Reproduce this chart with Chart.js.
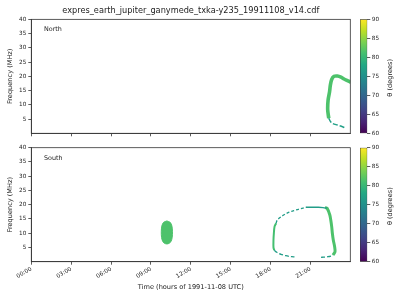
<!DOCTYPE html>
<html><head><meta charset="utf-8">
<script src="https://cdn.jsdelivr.net/npm/chart.js@4.4.1/dist/chart.umd.min.js"></script>
<style>
html,body{margin:0;padding:0;background:#fff;width:400px;height:300px;overflow:hidden}
canvas{position:absolute;display:block}
</style></head><body>
<canvas id="top" width="400" height="140" style="left:0;top:0"></canvas>
<canvas id="bot" width="400" height="160" style="left:0;top:140px"></canvas>
<canvas id="cbTop" width="60" height="140" style="left:340px;top:0"></canvas>
<canvas id="cbBot" width="60" height="160" style="left:340px;top:140px"></canvas>
<script>
// ---------- data ----------
const titleText = 'expres_earth_jupiter_ganymede_txka-y235_19911108_v14.cdf';
const hourTicks = [0, 3, 6, 9, 12, 15, 18, 21];
const hourLabels = ['00:00', '03:00', '06:00', '09:00', '12:00', '15:00', '18:00', '21:00'];
const freqTicks = [5, 10, 15, 20, 25, 30, 35, 40];
const thetaTicks = [60, 65, 70, 75, 80, 85, 90];

// North hemisphere emission (time in hours, frequency in MHz, theta in degrees)
const northArcTime = [22.38, 22.30, 22.33, 22.44, 22.50, 22.60, 22.78, 23.03, 23.30, 23.53, 23.78, 24.05];
const northArcFreq = [5.3, 8.2, 11.7, 14.6, 16.9, 18.9, 20.0, 20.1, 19.7, 19.05, 18.5, 17.9];
const northArcTheta = 81.5;
const northTailTime = [22.38, 22.50, 22.65, 23.03, 23.28, 23.60];
const northTailFreq = [5.3, 4.2, 3.5, 2.9, 2.55, 1.95];
const northTailTheta = 77;

// South hemisphere emission
const southBlobTime = [10.2, 10.45, 10.58, 10.62, 10.6, 10.5, 10.3, 10.1, 9.9, 9.8, 9.78, 9.82, 9.95, 10.2];
const southBlobFreq = [14.3, 13.8, 12.5, 10.5, 8.5, 7.0, 6.3, 6.3, 7.0, 8.5, 10.5, 12.5, 13.8, 14.3];
const southBlobTheta = 81.5;
const southTopLeftTime = [18.42, 18.5, 18.8, 19.1, 19.4, 19.75, 20.1, 20.45, 20.7];
const southTopLeftFreq = [13.5, 14.6, 15.8, 16.7, 17.4, 17.9, 18.4, 18.8, 19.1];
const southTopFlatTime = [20.66, 21.2, 21.6, 21.95, 22.25];
const southTopFlatFreq = [19.1, 19.1, 19.1, 19.0, 18.8];
const southTopTheta = 76.5;
const southLeftTime = [18.42, 18.30, 18.25, 18.22, 18.22, 18.28];
const southLeftFreq = [13.5, 12.3, 10.0, 7.5, 5.0, 4.0];
const southLeftTheta = 81;
const southBottomLeftTime = [18.28, 18.47, 18.78, 19.15, 19.6, 19.8];
const southBottomLeftFreq = [4.0, 3.3, 2.6, 2.1, 1.75, 1.7];
const southBottomRightTime = [21.8, 22.0, 22.31, 22.55, 22.7];
const southBottomRightFreq = [1.55, 1.6, 1.75, 2.0, 2.35];
const southBottomTheta = 76.5;
const southRightTime = [22.1, 22.25, 22.46, 22.53, 22.6, 22.65, 22.72, 22.82, 22.85, 22.7];
const southRightFreq = [19.0, 18.8, 16.4, 14.6, 12.3, 10.0, 7.6, 5.3, 3.5, 2.35];
const southRightTheta = 81.5;

// ---------- helpers ----------
Chart.defaults.font.family = "'DejaVu Sans', sans-serif";
Chart.defaults.color = '#222';
Chart.defaults.animation = false;

const viridisStops = ['#440154','#482475','#414487','#355f8d','#2a788e','#21918c','#22a884','#44bf70','#7ad151','#bddf26','#fde725'];
function hexRgb(h){ return [parseInt(h.slice(1,3),16), parseInt(h.slice(3,5),16), parseInt(h.slice(5,7),16)]; }
function viridis(theta){
  let u = (theta - 60) / 30; u = Math.min(1, Math.max(0, u));
  const p = u * (viridisStops.length - 1);
  const i = Math.min(Math.floor(p), viridisStops.length - 2);
  const f = p - i;
  const a = hexRgb(viridisStops[i]), b = hexRgb(viridisStops[i + 1]);
  return 'rgb(' + a.map((v, k) => Math.round(v + (b[k] - v) * f)).join(',') + ')';
}
function pts(ts, fs){ return ts.map((t, i) => ({x: t, y: fs[i]})); }
function lineSet(ts, fs, theta, width, dash, fill){
  const c = viridis(theta);
  return {data: pts(ts, fs), showLine: true, borderColor: c, backgroundColor: c,
    borderWidth: width, borderDash: dash || [], pointRadius: 0, pointHoverRadius: 0,
    tension: 0.3, fill: fill || false, borderCapStyle: 'butt', borderJoinStyle: 'round'};
}

const framePlugin = {
  id: 'frame',
  afterDraw(chart, args, opts){
    const {ctx, chartArea: a} = chart;
    ctx.save();
    ctx.strokeStyle = '#333'; ctx.lineWidth = 0.8;
    ctx.strokeRect(a.left, a.top, a.right - a.left, a.bottom - a.top);
    if (opts.label){
      ctx.fillStyle = '#222';
      ctx.font = "6.4px 'DejaVu Sans'";
      ctx.textBaseline = 'middle'; ctx.textAlign = 'left';
      ctx.fillText(opts.label, a.left + 12.7, a.top + 10.3);
    }
    ctx.restore();
  }
};

const gridOpts = {drawOnChartArea: false, drawTicks: true, tickLength: 3, color: '#333', lineWidth: 0.8};
const borderOpts = {display: true, color: '#333', width: 0.8};

function panel(id, label, datasets, showX, padTop, xHeight){
  const plugins = {legend: {display: false}, tooltip: {enabled: false}, frame: {label: label}};
  if (!showX){
    plugins.title = {display: true, text: titleText, fullSize: false, color: '#222',
      font: {size: 8.2, weight: 'normal'}, padding: {top: 5.5, bottom: 4}};
  }
  return new Chart(document.getElementById(id), {
    type: 'scatter',
    data: {datasets: datasets},
    options: {
      responsive: false, devicePixelRatio: 1, animation: false,
      layout: {padding: {left: 0, right: 49.7, top: padTop, bottom: 0}},
      plugins: plugins,
      scales: {
        x: {type: 'linear', min: 0, max: 24,
          afterBuildTicks: s => { s.ticks = hourTicks.map(v => ({value: v})); },
          ticks: {display: showX, font: {size: 5.7}, color: '#222', padding: 1,
            minRotation: 30, maxRotation: 30, autoSkip: false,
            callback: (v, i) => hourLabels[i]},
          grid: gridOpts, border: borderOpts,
          title: {display: showX, text: 'Time (hours of 1991-11-08 UTC)', color: '#222',
            font: {size: 6.6}, padding: {top: 0, bottom: 8.3}},
          afterFit: s => { s.height = xHeight; }},
        y: {type: 'linear', min: 0, max: 40,
          afterBuildTicks: s => { s.ticks = freqTicks.map(v => ({value: v})); },
          ticks: {font: {size: 5.7}, color: '#222', padding: 2},
          grid: gridOpts, border: borderOpts,
          title: {display: true, text: 'Frequency (MHz)', color: '#222',
            font: {size: 6.6}, padding: {top: 6.3, bottom: 0}},
          afterFit: s => { s.width = 31.3; }}
      }
    },
    plugins: [framePlugin]
  });
}

panel('top', 'North', [
  lineSet(northTailTime, northTailFreq, northTailTheta, 1.5, [5, 2]),
  lineSet(northArcTime, northArcFreq, northArcTheta, 3.6)
], false, 0, 6.7);

panel('bot', 'South', [
  lineSet(southBlobTime, southBlobFreq, southBlobTheta, 1, [], 'shape'),
  lineSet(southTopLeftTime, southTopLeftFreq, southTopTheta, 1.3, [3, 2]),
  lineSet(southTopFlatTime, southTopFlatFreq, southTopTheta, 1.3),
  lineSet(southBottomLeftTime, southBottomLeftFreq, southBottomTheta, 1.3, [4, 2]),
  lineSet(southBottomRightTime, southBottomRightFreq, southBottomTheta, 1.3, [4, 2]),
  lineSet(southLeftTime, southLeftFreq, southLeftTheta, 2),
  lineSet(southRightTime, southRightFreq, southRightTheta, 3)
], true, 7.7, 38.3);

const cbLabelPlugin = {
  id: 'cbLabel',
  afterDraw(chart){
    const {ctx, chartArea: a} = chart;
    ctx.save();
    ctx.fillStyle = '#222';
    ctx.font = "6.6px 'DejaVu Sans'";
    ctx.textAlign = 'center'; ctx.textBaseline = 'middle';
    ctx.translate(50, (a.top + a.bottom) / 2 + 1.5);
    ctx.rotate(-Math.PI / 2);
    ctx.fillText('θ (degrees)', 0, 0);
    ctx.restore();
  }
};

function colorbar(id, padTop, padBottom){
  const lo = thetaTicks[0], hi = thetaTicks[thetaTicks.length - 1];
  return new Chart(document.getElementById(id), {
    type: 'bar',
    data: {labels: [''], datasets: [{
      data: [[lo, hi]],
      backgroundColor: ctx => {
        const a = ctx.chart.chartArea;
        if (!a) return viridis(75);
        const g = ctx.chart.ctx.createLinearGradient(0, a.bottom, 0, a.top);
        viridisStops.forEach((c, i) => g.addColorStop(i / (viridisStops.length - 1), c));
        return g;
      },
      borderColor: '#333', borderWidth: 0.8, borderSkipped: false,
      barPercentage: 1, categoryPercentage: 1
    }]},
    options: {
      responsive: false, devicePixelRatio: 1, animation: false,
      layout: {padding: {left: 20, right: 0, top: padTop, bottom: padBottom}},
      plugins: {legend: {display: false}, tooltip: {enabled: false}},
      scales: {
        x: {display: false},
        y: {position: 'right', min: lo, max: hi,
          afterBuildTicks: s => { s.ticks = thetaTicks.map(v => ({value: v})); },
          ticks: {font: {size: 5.7}, color: '#222', padding: 1.5},
          grid: gridOpts, border: {display: false},
          afterFit: s => { s.width = 32.7; }}
      }
    },
    plugins: [cbLabelPlugin]
  });
}
colorbar('cbTop', 19.3, 6.7);
colorbar('cbBot', 7.7, 38.3);
</script>
</body></html>
